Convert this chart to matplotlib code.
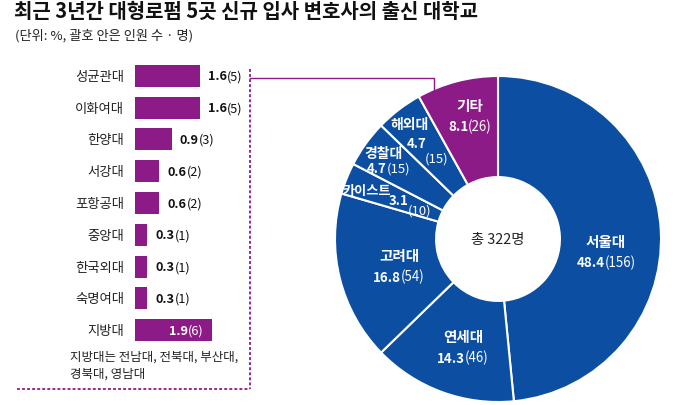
import numpy as np
import matplotlib
matplotlib.use('Agg')
import matplotlib.pyplot as plt
from matplotlib.lines import Line2D
from matplotlib.offsetbox import TextArea, HPacker, AnnotationBbox

plt.rcParams['font.family'] = ['Noto Sans CJK KR', 'DejaVu Sans']
plt.rcParams['axes.unicode_minus'] = False

# 막대: 기타 세부
bar_names = ['성균관대', '이화여대', '한양대', '서강대', '포항공대', '중앙대', '한국외대', '숙명여대', '지방대']
bar_pct = [1.6, 1.6, 0.9, 0.6, 0.6, 0.3, 0.3, 0.3, 1.9]
bar_cnt = [5, 5, 3, 2, 2, 1, 1, 1, 6]

# 도넛
pie_names = ['서울대', '연세대', '고려대', '카이스트', '경찰대', '해외대', '기타']
pie_pct = [48.4, 14.3, 16.8, 3.1, 4.7, 4.7, 8.1]
pie_cnt = [156, 46, 54, 10, 15, 15, 26]
# 라벨 위치 (반지름, 각도)
label_pos = [(0.667, -6.6), (0.694, -108), (0.629, -165), (0.86, 159.5), (0.855, 145.5), (0.89, 127.4), (0.777, 102.8)]

BLUE = '#0b4ea2'
PURPLE = '#8c1a87'
W, H = 680, 406


def px(x, y):
    return x / W, 1 - y / H


def mixed(ax, xy, bold, regular, color, size, align=(0.5, 0.5), offset=(0, 0)):
    t1 = TextArea(bold, textprops=dict(fontweight='bold', color=color, fontsize=size))
    t2 = TextArea(regular, textprops=dict(color=color, fontsize=size))
    box = HPacker(children=[t1, t2], pad=0, sep=0, align='baseline')
    ab = AnnotationBbox(box, xy, xybox=offset, boxcoords='offset points', frameon=False,
                        box_alignment=align, pad=0)
    ax.add_artist(ab)


def wtext(ax, s, xy, off, size, bold=False):
    ax.annotate(s, xy, xytext=off, textcoords='offset points', ha='center', va='center',
                fontsize=size, fontweight='bold' if bold else 'normal', color='white')


fig = plt.figure(figsize=(6.8, 4.06), dpi=100)

fig.text(*px(14, 11), '최근 3년간 대형로펌 5곳 신규 입사 변호사의 출신 대학교',
         fontsize=14.4, fontweight='bold', va='center', ha='left', color='#111111')
fig.text(*px(15, 36), '(단위: %, 괄호 안은 인원 수 · 명)', fontsize=9.5, va='center', ha='left', color='#222222')

# ---- 막대그래프
ax = fig.add_axes([135 / W, 1 - 347 / H, 120 / W, 286 / H])
y = np.arange(len(bar_names))
ax.barh(y, bar_pct, height=0.69, color=PURPLE)
ax.set_xlim(0, 120 / 40.6)
ax.set_ylim(len(bar_names) - 0.5, -0.5)
ax.axis('off')
for i, (n, p, c) in enumerate(zip(bar_names, bar_pct, bar_cnt)):
    ax.annotate(n, (0, i), xytext=(-8, 0), textcoords='offset points', ha='right', va='center',
                fontsize=9.6, color='#222222')
    if n == '지방대':
        mixed(ax, (p, i), f'{p}', f'({c})', 'white', 9.2, align=(1, 0.5), offset=(-6, 0))
    else:
        mixed(ax, (p, i), f'{p}', f'({c})', '#111111', 9.2, align=(0, 0.5), offset=(6, 0))

fig.text(*px(70, 366), '지방대는 전남대, 전북대, 부산대,\n경북대, 영남대', fontsize=9,
         va='center', ha='left', color='#222222', linespacing=1.4)

# 점선 박스 + 연결선
dash = (0, (1.6, 1.2))
fig.add_artist(Line2D([250 / W, 250 / W], [1 - 70 / H, 1 - 390 / H], color=PURPLE, lw=1.3, ls=dash))
fig.add_artist(Line2D([17 / W, 250 / W], [1 - 390 / H, 1 - 390 / H], color=PURPLE, lw=1.3, ls=dash))
fig.add_artist(Line2D([250 / W, 434 / W, 434 / W], [1 - 79 / H, 1 - 79 / H, 1 - 91 / H], color=PURPLE, lw=1))

# ---- 도넛
R = 163
cx, cy = 498, 240
pax = fig.add_axes([(cx - R) / W, 1 - (cy + R) / H, 2 * R / W, 2 * R / H])
colors = [BLUE] * 6 + [PURPLE]
pax.pie(pie_cnt, startangle=90, counterclock=False, colors=colors, radius=1,
        wedgeprops=dict(width=0.62, edgecolor='white', linewidth=1.5))
pax.set_xlim(-1, 1)
pax.set_ylim(-1, 1)
pax.set_aspect('equal')
pax.axis('off')
pax.text(0, 0, '총 322명', ha='center', va='center', fontsize=10.3, color='#222222')

for n, p, c, (r, a) in zip(pie_names, pie_pct, pie_cnt, label_pos):
    xy = (r * np.cos(np.radians(a)), r * np.sin(np.radians(a)))
    if n == '해외대':
        wtext(pax, n, xy, (0, 0), 10, bold=True)
        wtext(pax, f'{p}', xy, (5, -14), 9.5, bold=True)
        wtext(pax, f'({c})', xy, (19.5, -25), 9.5)
    elif n == '카이스트':
        wtext(pax, n, xy, (0, 0), 9.5, bold=True)
        wtext(pax, f'{p}', xy, (23, -7), 9.5, bold=True)
        wtext(pax, f'({c})', xy, (38, -14.5), 9.5)
    elif n == '경찰대':
        wtext(pax, n, xy, (0, 5.4), 10, bold=True)
        mixed(pax, xy, f'{p}', f'({c})', 'white', 9.5, offset=(4, -5.6))
    else:
        wtext(pax, n, xy, (0, 7.5), 10.5, bold=True)
        mixed(pax, xy, f'{p}', f'({c})', 'white', 9.6, offset=(0, -7.7))

fig.savefig('out.png', dpi=100)
